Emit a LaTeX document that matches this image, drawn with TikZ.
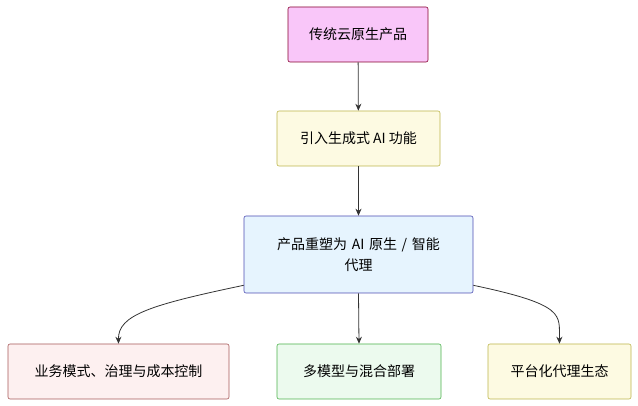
\documentclass[tikz,border=0pt]{standalone}
\usepackage{fontspec}
\setmainfont{Noto Sans CJK SC}
\usetikzlibrary{arrows.meta}
\begin{document}
\begin{tikzpicture}[x=1pt,y=-1pt,
  box/.style={draw=#1,line width=0.6pt,rounded corners=2pt,align=center,font=\fontsize{14}{21}\selectfont,inner sep=0pt},
  arr/.style={-{Stealth[length=7pt,width=6pt]},line width=0.8pt,draw=black!80}]
\useasboundingbox (0,0) rectangle (638,406);
\node[box=purple!70!black,fill={rgb,255:red,249;green,198;blue,249},minimum width=140,minimum height=55] (a) at (358,34.5) {传统云原生产品};
\node[box=olive!60,fill={rgb,255:red,253;green,250;blue,226},minimum width=163,minimum height=55] (b) at (358.5,138.5) {引入生成式 AI 功能};
\node[box=blue!40!gray,fill={rgb,255:red,230;green,244;blue,254},minimum width=229,minimum height=77,text width=210] (c) at (358.5,254.5) {产品重塑为 AI 原生 / 智能\\代理};
\node[box=red!30!gray,fill={rgb,255:red,253;green,240;blue,240},minimum width=221,minimum height=55] (d) at (118.5,371.5) {业务模式、治理与成本控制};
\node[box=green!40!gray,fill={rgb,255:red,236;green,250;blue,238},minimum width=164,minimum height=55] (e) at (359,371.5) {多模型与混合部署};
\node[box=olive!60,fill={rgb,255:red,253;green,250;blue,226},minimum width=143,minimum height=55] (f) at (559.5,371.5) {平台化代理生态};
\draw[arr] (a) -- (b);
\draw[arr] (b) -- (c);
\draw[arr] (c.south) -- (e.north);
\draw[arr] (c.south west) ++(0,-8) .. controls (150,305) and (118,315) .. (d.north);
\draw[arr] (c.south east) ++(0,-8) .. controls (567,305) and (559,315) .. (f.north);
\end{tikzpicture}
\end{document}
